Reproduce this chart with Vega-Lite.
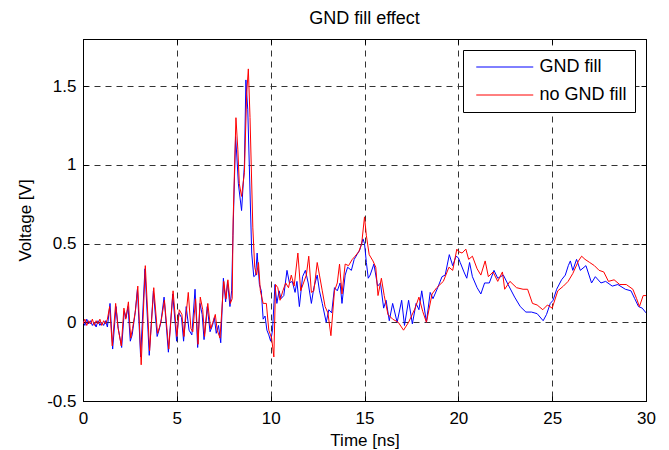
{
  "$schema": "https://vega.github.io/schema/vega-lite/v6.json",
  "width": 563,
  "height": 362,
  "autosize": "none",
  "padding": {"left": 83, "top": 39, "right": 23, "bottom": 49},
  "background": "white",
  "config": {
    "font": "Liberation Sans",
    "view": {"stroke": "black", "strokeWidth": 1},
    "axis": {
      "labelFont": "Liberation Sans",
      "titleFont": "Liberation Sans",
      "labelColor": "black",
      "titleColor": "black",
      "domainColor": "black",
      "tickColor": "black",
      "labelFontSize": 17,
      "titleFontSize": 17,
      "titleFontWeight": "normal",
      "tickSize": -5,
      "gridColor": "#333333",
      "gridDash": [6, 5],
      "gridOpacity": 1,
      "labelFlush": false,
      "labelOverlap": false
    },
    "legend": {
      "labelFont": "Liberation Sans",
      "labelFontSize": 18,
      "labelColor": "black"
    }
  },
  "title": {
    "text": "GND fill effect",
    "font": "Liberation Sans",
    "fontSize": 18,
    "fontWeight": "normal",
    "color": "black",
    "anchor": "middle",
    "baseline": "bottom",
    "offset": 14,
    "dy": 21
  },
  "data": {
    "values": [
      {"t":0,"v":0.01,"s":"GND fill"},{"t":0.1,"v":-0.02,"s":"GND fill"},{"t":0.2,"v":0.02,"s":"GND fill"},{"t":0.3,"v":-0.01,"s":"GND fill"},{"t":0.4,"v":0.01,"s":"GND fill"},{"t":0.5,"v":-0.02,"s":"GND fill"},{"t":0.6,"v":0.0,"s":"GND fill"},{"t":0.7,"v":-0.03,"s":"GND fill"},{"t":0.8,"v":0.01,"s":"GND fill"},{"t":0.9,"v":-0.02,"s":"GND fill"},{"t":1.0,"v":0.0,"s":"GND fill"},{"t":1.1,"v":-0.02,"s":"GND fill"},{"t":1.2,"v":0.01,"s":"GND fill"},{"t":1.3,"v":-0.03,"s":"GND fill"},{"t":1.44,"v":0.12,"s":"GND fill"},{"t":1.58,"v":-0.17,"s":"GND fill"},{"t":1.76,"v":0.1,"s":"GND fill"},{"t":1.88,"v":-0.04,"s":"GND fill"},{"t":2.06,"v":-0.16,"s":"GND fill"},{"t":2.2,"v":0.07,"s":"GND fill"},{"t":2.3,"v":0.03,"s":"GND fill"},{"t":2.4,"v":0.1,"s":"GND fill"},{"t":2.52,"v":-0.12,"s":"GND fill"},{"t":2.62,"v":-0.08,"s":"GND fill"},{"t":2.78,"v":0.06,"s":"GND fill"},{"t":2.9,"v":0.21,"s":"GND fill"},{"t":3.07,"v":-0.22,"s":"GND fill"},{"t":3.3,"v":0.34,"s":"GND fill"},{"t":3.53,"v":-0.21,"s":"GND fill"},{"t":3.75,"v":0.2,"s":"GND fill"},{"t":3.95,"v":-0.09,"s":"GND fill"},{"t":4.05,"v":-0.05,"s":"GND fill"},{"t":4.15,"v":0.0,"s":"GND fill"},{"t":4.32,"v":0.16,"s":"GND fill"},{"t":4.55,"v":-0.19,"s":"GND fill"},{"t":4.78,"v":0.18,"s":"GND fill"},{"t":4.99,"v":-0.12,"s":"GND fill"},{"t":5.11,"v":0.06,"s":"GND fill"},{"t":5.25,"v":0.03,"s":"GND fill"},{"t":5.36,"v":-0.12,"s":"GND fill"},{"t":5.5,"v":0.1,"s":"GND fill"},{"t":5.65,"v":-0.05,"s":"GND fill"},{"t":5.8,"v":-0.08,"s":"GND fill"},{"t":5.97,"v":0.21,"s":"GND fill"},{"t":6.11,"v":-0.16,"s":"GND fill"},{"t":6.23,"v":0.12,"s":"GND fill"},{"t":6.35,"v":0.05,"s":"GND fill"},{"t":6.45,"v":-0.11,"s":"GND fill"},{"t":6.62,"v":0.1,"s":"GND fill"},{"t":6.77,"v":-0.06,"s":"GND fill"},{"t":6.9,"v":-0.02,"s":"GND fill"},{"t":7.0,"v":0.03,"s":"GND fill"},{"t":7.1,"v":-0.07,"s":"GND fill"},{"t":7.22,"v":-0.02,"s":"GND fill"},{"t":7.34,"v":-0.13,"s":"GND fill"},{"t":7.48,"v":0.28,"s":"GND fill"},{"t":7.6,"v":0.13,"s":"GND fill"},{"t":7.7,"v":0.26,"s":"GND fill"},{"t":7.83,"v":0.1,"s":"GND fill"},{"t":7.92,"v":0.2,"s":"GND fill"},{"t":7.99,"v":0.55,"s":"GND fill"},{"t":8.13,"v":1.18,"s":"GND fill"},{"t":8.2,"v":1.05,"s":"GND fill"},{"t":8.28,"v":0.88,"s":"GND fill"},{"t":8.45,"v":0.71,"s":"GND fill"},{"t":8.6,"v":1.0,"s":"GND fill"},{"t":8.68,"v":1.54,"s":"GND fill"},{"t":8.78,"v":1.35,"s":"GND fill"},{"t":8.99,"v":0.44,"s":"GND fill"},{"t":9.1,"v":0.29,"s":"GND fill"},{"t":9.2,"v":0.3,"s":"GND fill"},{"t":9.28,"v":0.44,"s":"GND fill"},{"t":9.4,"v":0.24,"s":"GND fill"},{"t":9.5,"v":0.2,"s":"GND fill"},{"t":9.6,"v":0.02,"s":"GND fill"},{"t":9.7,"v":0.04,"s":"GND fill"},{"t":9.8,"v":-0.05,"s":"GND fill"},{"t":9.9,"v":-0.08,"s":"GND fill"},{"t":10.0,"v":-0.12,"s":"GND fill"},{"t":10.1,"v":-0.05,"s":"GND fill"},{"t":10.23,"v":0.24,"s":"GND fill"},{"t":10.33,"v":0.12,"s":"GND fill"},{"t":10.45,"v":0.2,"s":"GND fill"},{"t":10.55,"v":0.15,"s":"GND fill"},{"t":10.7,"v":0.17,"s":"GND fill"},{"t":10.87,"v":0.33,"s":"GND fill"},{"t":11.0,"v":0.25,"s":"GND fill"},{"t":11.15,"v":0.26,"s":"GND fill"},{"t":11.3,"v":0.19,"s":"GND fill"},{"t":11.4,"v":0.26,"s":"GND fill"},{"t":11.53,"v":0.1,"s":"GND fill"},{"t":11.7,"v":0.29,"s":"GND fill"},{"t":11.85,"v":0.33,"s":"GND fill"},{"t":12.0,"v":0.25,"s":"GND fill"},{"t":12.17,"v":0.12,"s":"GND fill"},{"t":12.3,"v":0.22,"s":"GND fill"},{"t":12.48,"v":0.3,"s":"GND fill"},{"t":12.6,"v":0.2,"s":"GND fill"},{"t":12.75,"v":0.12,"s":"GND fill"},{"t":12.96,"v":0.0,"s":"GND fill"},{"t":13.1,"v":0.08,"s":"GND fill"},{"t":13.25,"v":0.06,"s":"GND fill"},{"t":13.4,"v":0.22,"s":"GND fill"},{"t":13.55,"v":0.2,"s":"GND fill"},{"t":13.7,"v":0.25,"s":"GND fill"},{"t":13.8,"v":0.12,"s":"GND fill"},{"t":13.97,"v":0.3,"s":"GND fill"},{"t":14.1,"v":0.35,"s":"GND fill"},{"t":14.3,"v":0.33,"s":"GND fill"},{"t":14.45,"v":0.4,"s":"GND fill"},{"t":14.6,"v":0.43,"s":"GND fill"},{"t":14.75,"v":0.46,"s":"GND fill"},{"t":14.92,"v":0.53,"s":"GND fill"},{"t":15.0,"v":0.5,"s":"GND fill"},{"t":15.1,"v":0.38,"s":"GND fill"},{"t":15.2,"v":0.28,"s":"GND fill"},{"t":15.3,"v":0.3,"s":"GND fill"},{"t":15.5,"v":0.37,"s":"GND fill"},{"t":15.6,"v":0.3,"s":"GND fill"},{"t":15.7,"v":0.23,"s":"GND fill"},{"t":15.85,"v":0.25,"s":"GND fill"},{"t":16.02,"v":0.09,"s":"GND fill"},{"t":16.15,"v":0.14,"s":"GND fill"},{"t":16.32,"v":0.01,"s":"GND fill"},{"t":16.5,"v":0.12,"s":"GND fill"},{"t":16.74,"v":0.0,"s":"GND fill"},{"t":16.98,"v":0.14,"s":"GND fill"},{"t":17.13,"v":-0.02,"s":"GND fill"},{"t":17.35,"v":0.14,"s":"GND fill"},{"t":17.55,"v":-0.01,"s":"GND fill"},{"t":17.75,"v":0.12,"s":"GND fill"},{"t":17.9,"v":0.08,"s":"GND fill"},{"t":18.05,"v":0.2,"s":"GND fill"},{"t":18.3,"v":0.0,"s":"GND fill"},{"t":18.5,"v":0.19,"s":"GND fill"},{"t":18.65,"v":0.15,"s":"GND fill"},{"t":18.9,"v":0.22,"s":"GND fill"},{"t":19.13,"v":0.29,"s":"GND fill"},{"t":19.3,"v":0.3,"s":"GND fill"},{"t":19.52,"v":0.43,"s":"GND fill"},{"t":19.7,"v":0.36,"s":"GND fill"},{"t":19.88,"v":0.42,"s":"GND fill"},{"t":20.0,"v":0.41,"s":"GND fill"},{"t":20.1,"v":0.38,"s":"GND fill"},{"t":20.3,"v":0.32,"s":"GND fill"},{"t":20.45,"v":0.28,"s":"GND fill"},{"t":20.6,"v":0.38,"s":"GND fill"},{"t":20.75,"v":0.29,"s":"GND fill"},{"t":21.0,"v":0.22,"s":"GND fill"},{"t":21.2,"v":0.18,"s":"GND fill"},{"t":21.4,"v":0.25,"s":"GND fill"},{"t":21.65,"v":0.25,"s":"GND fill"},{"t":21.9,"v":0.33,"s":"GND fill"},{"t":22.1,"v":0.28,"s":"GND fill"},{"t":22.4,"v":0.3,"s":"GND fill"},{"t":22.65,"v":0.24,"s":"GND fill"},{"t":23.0,"v":0.16,"s":"GND fill"},{"t":23.3,"v":0.1,"s":"GND fill"},{"t":23.6,"v":0.065,"s":"GND fill"},{"t":23.9,"v":0.065,"s":"GND fill"},{"t":24.2,"v":0.055,"s":"GND fill"},{"t":24.52,"v":0.01,"s":"GND fill"},{"t":24.7,"v":0.05,"s":"GND fill"},{"t":24.9,"v":0.12,"s":"GND fill"},{"t":25.05,"v":0.14,"s":"GND fill"},{"t":25.24,"v":0.21,"s":"GND fill"},{"t":25.5,"v":0.27,"s":"GND fill"},{"t":25.7,"v":0.3,"s":"GND fill"},{"t":25.86,"v":0.36,"s":"GND fill"},{"t":25.97,"v":0.39,"s":"GND fill"},{"t":26.1,"v":0.33,"s":"GND fill"},{"t":26.3,"v":0.4,"s":"GND fill"},{"t":26.5,"v":0.33,"s":"GND fill"},{"t":26.8,"v":0.36,"s":"GND fill"},{"t":27.1,"v":0.25,"s":"GND fill"},{"t":27.3,"v":0.29,"s":"GND fill"},{"t":27.6,"v":0.25,"s":"GND fill"},{"t":27.85,"v":0.26,"s":"GND fill"},{"t":28.2,"v":0.23,"s":"GND fill"},{"t":28.5,"v":0.24,"s":"GND fill"},{"t":28.9,"v":0.21,"s":"GND fill"},{"t":29.2,"v":0.2,"s":"GND fill"},{"t":29.4,"v":0.15,"s":"GND fill"},{"t":29.6,"v":0.1,"s":"GND fill"},{"t":29.8,"v":0.09,"s":"GND fill"},{"t":30.0,"v":0.06,"s":"GND fill"},
      {"t":0,"v":-0.01,"s":"no GND fill"},{"t":0.1,"v":0.02,"s":"no GND fill"},{"t":0.2,"v":-0.02,"s":"no GND fill"},{"t":0.3,"v":0.01,"s":"no GND fill"},{"t":0.4,"v":-0.01,"s":"no GND fill"},{"t":0.5,"v":0.02,"s":"no GND fill"},{"t":0.6,"v":-0.02,"s":"no GND fill"},{"t":0.7,"v":0.01,"s":"no GND fill"},{"t":0.8,"v":-0.01,"s":"no GND fill"},{"t":0.9,"v":0.02,"s":"no GND fill"},{"t":1.0,"v":-0.02,"s":"no GND fill"},{"t":1.1,"v":0.01,"s":"no GND fill"},{"t":1.2,"v":-0.01,"s":"no GND fill"},{"t":1.3,"v":0.02,"s":"no GND fill"},{"t":1.42,"v":0.1,"s":"no GND fill"},{"t":1.56,"v":-0.15,"s":"no GND fill"},{"t":1.74,"v":0.12,"s":"no GND fill"},{"t":1.86,"v":-0.03,"s":"no GND fill"},{"t":2.04,"v":-0.15,"s":"no GND fill"},{"t":2.18,"v":0.09,"s":"no GND fill"},{"t":2.28,"v":0.02,"s":"no GND fill"},{"t":2.42,"v":0.13,"s":"no GND fill"},{"t":2.54,"v":-0.1,"s":"no GND fill"},{"t":2.64,"v":-0.04,"s":"no GND fill"},{"t":2.8,"v":0.08,"s":"no GND fill"},{"t":2.92,"v":0.23,"s":"no GND fill"},{"t":3.1,"v":-0.27,"s":"no GND fill"},{"t":3.32,"v":0.36,"s":"no GND fill"},{"t":3.55,"v":-0.18,"s":"no GND fill"},{"t":3.77,"v":0.22,"s":"no GND fill"},{"t":3.97,"v":-0.07,"s":"no GND fill"},{"t":4.08,"v":-0.03,"s":"no GND fill"},{"t":4.18,"v":0.02,"s":"no GND fill"},{"t":4.34,"v":0.14,"s":"no GND fill"},{"t":4.57,"v":-0.17,"s":"no GND fill"},{"t":4.8,"v":0.2,"s":"no GND fill"},{"t":5.0,"v":-0.09,"s":"no GND fill"},{"t":5.13,"v":0.08,"s":"no GND fill"},{"t":5.27,"v":0.05,"s":"no GND fill"},{"t":5.38,"v":-0.09,"s":"no GND fill"},{"t":5.61,"v":0.19,"s":"no GND fill"},{"t":5.75,"v":-0.04,"s":"no GND fill"},{"t":5.85,"v":-0.06,"s":"no GND fill"},{"t":6.0,"v":0.15,"s":"no GND fill"},{"t":6.13,"v":-0.14,"s":"no GND fill"},{"t":6.25,"v":0.16,"s":"no GND fill"},{"t":6.38,"v":0.08,"s":"no GND fill"},{"t":6.48,"v":-0.09,"s":"no GND fill"},{"t":6.65,"v":0.12,"s":"no GND fill"},{"t":6.8,"v":-0.04,"s":"no GND fill"},{"t":6.92,"v":0.0,"s":"no GND fill"},{"t":7.05,"v":0.05,"s":"no GND fill"},{"t":7.15,"v":-0.05,"s":"no GND fill"},{"t":7.3,"v":-0.1,"s":"no GND fill"},{"t":7.5,"v":0.26,"s":"no GND fill"},{"t":7.62,"v":0.15,"s":"no GND fill"},{"t":7.72,"v":0.27,"s":"no GND fill"},{"t":7.85,"v":0.12,"s":"no GND fill"},{"t":7.95,"v":0.15,"s":"no GND fill"},{"t":8.0,"v":0.65,"s":"no GND fill"},{"t":8.15,"v":1.3,"s":"no GND fill"},{"t":8.25,"v":1.1,"s":"no GND fill"},{"t":8.33,"v":0.88,"s":"no GND fill"},{"t":8.45,"v":0.8,"s":"no GND fill"},{"t":8.6,"v":0.95,"s":"no GND fill"},{"t":8.72,"v":1.45,"s":"no GND fill"},{"t":8.81,"v":1.61,"s":"no GND fill"},{"t":8.9,"v":1.3,"s":"no GND fill"},{"t":9.05,"v":0.6,"s":"no GND fill"},{"t":9.15,"v":0.35,"s":"no GND fill"},{"t":9.25,"v":0.3,"s":"no GND fill"},{"t":9.35,"v":0.38,"s":"no GND fill"},{"t":9.45,"v":0.2,"s":"no GND fill"},{"t":9.6,"v":0.12,"s":"no GND fill"},{"t":9.77,"v":0.12,"s":"no GND fill"},{"t":9.9,"v":-0.05,"s":"no GND fill"},{"t":10.05,"v":-0.1,"s":"no GND fill"},{"t":10.17,"v":-0.22,"s":"no GND fill"},{"t":10.26,"v":0.24,"s":"no GND fill"},{"t":10.38,"v":0.22,"s":"no GND fill"},{"t":10.5,"v":0.14,"s":"no GND fill"},{"t":10.65,"v":0.2,"s":"no GND fill"},{"t":10.8,"v":0.25,"s":"no GND fill"},{"t":10.95,"v":0.22,"s":"no GND fill"},{"t":11.1,"v":0.3,"s":"no GND fill"},{"t":11.25,"v":0.23,"s":"no GND fill"},{"t":11.45,"v":0.44,"s":"no GND fill"},{"t":11.6,"v":0.2,"s":"no GND fill"},{"t":11.75,"v":0.25,"s":"no GND fill"},{"t":11.9,"v":0.3,"s":"no GND fill"},{"t":12.03,"v":0.42,"s":"no GND fill"},{"t":12.17,"v":0.19,"s":"no GND fill"},{"t":12.3,"v":0.2,"s":"no GND fill"},{"t":12.48,"v":0.38,"s":"no GND fill"},{"t":12.6,"v":0.3,"s":"no GND fill"},{"t":12.75,"v":0.2,"s":"no GND fill"},{"t":12.9,"v":0.1,"s":"no GND fill"},{"t":13.05,"v":0.06,"s":"no GND fill"},{"t":13.21,"v":-0.085,"s":"no GND fill"},{"t":13.4,"v":0.2,"s":"no GND fill"},{"t":13.55,"v":0.25,"s":"no GND fill"},{"t":13.67,"v":0.37,"s":"no GND fill"},{"t":13.8,"v":0.18,"s":"no GND fill"},{"t":13.97,"v":0.37,"s":"no GND fill"},{"t":14.15,"v":0.36,"s":"no GND fill"},{"t":14.35,"v":0.4,"s":"no GND fill"},{"t":14.5,"v":0.42,"s":"no GND fill"},{"t":14.7,"v":0.45,"s":"no GND fill"},{"t":14.85,"v":0.5,"s":"no GND fill"},{"t":15.0,"v":0.67,"s":"no GND fill"},{"t":15.1,"v":0.55,"s":"no GND fill"},{"t":15.25,"v":0.43,"s":"no GND fill"},{"t":15.45,"v":0.39,"s":"no GND fill"},{"t":15.6,"v":0.35,"s":"no GND fill"},{"t":15.72,"v":0.17,"s":"no GND fill"},{"t":15.9,"v":0.28,"s":"no GND fill"},{"t":16.05,"v":0.17,"s":"no GND fill"},{"t":16.25,"v":0.05,"s":"no GND fill"},{"t":16.5,"v":0.02,"s":"no GND fill"},{"t":16.8,"v":0.0,"s":"no GND fill"},{"t":17.08,"v":-0.05,"s":"no GND fill"},{"t":17.35,"v":0.0,"s":"no GND fill"},{"t":17.7,"v":0.09,"s":"no GND fill"},{"t":17.9,"v":0.16,"s":"no GND fill"},{"t":18.1,"v":0.07,"s":"no GND fill"},{"t":18.3,"v":0.0,"s":"no GND fill"},{"t":18.6,"v":0.18,"s":"no GND fill"},{"t":18.85,"v":0.22,"s":"no GND fill"},{"t":19.2,"v":0.26,"s":"no GND fill"},{"t":19.5,"v":0.35,"s":"no GND fill"},{"t":19.7,"v":0.33,"s":"no GND fill"},{"t":19.92,"v":0.465,"s":"no GND fill"},{"t":20.0,"v":0.45,"s":"no GND fill"},{"t":20.2,"v":0.44,"s":"no GND fill"},{"t":20.4,"v":0.465,"s":"no GND fill"},{"t":20.55,"v":0.4,"s":"no GND fill"},{"t":20.75,"v":0.42,"s":"no GND fill"},{"t":21.0,"v":0.34,"s":"no GND fill"},{"t":21.2,"v":0.3,"s":"no GND fill"},{"t":21.43,"v":0.39,"s":"no GND fill"},{"t":21.6,"v":0.29,"s":"no GND fill"},{"t":21.85,"v":0.32,"s":"no GND fill"},{"t":22.1,"v":0.26,"s":"no GND fill"},{"t":22.35,"v":0.32,"s":"no GND fill"},{"t":22.47,"v":0.21,"s":"no GND fill"},{"t":22.75,"v":0.26,"s":"no GND fill"},{"t":23.1,"v":0.22,"s":"no GND fill"},{"t":23.45,"v":0.21,"s":"no GND fill"},{"t":23.69,"v":0.21,"s":"no GND fill"},{"t":23.95,"v":0.12,"s":"no GND fill"},{"t":24.2,"v":0.11,"s":"no GND fill"},{"t":24.5,"v":0.08,"s":"no GND fill"},{"t":24.75,"v":0.11,"s":"no GND fill"},{"t":25.0,"v":0.09,"s":"no GND fill"},{"t":25.3,"v":0.2,"s":"no GND fill"},{"t":25.6,"v":0.23,"s":"no GND fill"},{"t":25.85,"v":0.26,"s":"no GND fill"},{"t":26.1,"v":0.31,"s":"no GND fill"},{"t":26.4,"v":0.39,"s":"no GND fill"},{"t":26.57,"v":0.42,"s":"no GND fill"},{"t":26.75,"v":0.4,"s":"no GND fill"},{"t":27.0,"v":0.38,"s":"no GND fill"},{"t":27.25,"v":0.36,"s":"no GND fill"},{"t":27.5,"v":0.33,"s":"no GND fill"},{"t":27.75,"v":0.32,"s":"no GND fill"},{"t":28.0,"v":0.26,"s":"no GND fill"},{"t":28.3,"v":0.27,"s":"no GND fill"},{"t":28.6,"v":0.24,"s":"no GND fill"},{"t":28.95,"v":0.24,"s":"no GND fill"},{"t":29.3,"v":0.21,"s":"no GND fill"},{"t":29.5,"v":0.15,"s":"no GND fill"},{"t":29.65,"v":0.1,"s":"no GND fill"},{"t":29.85,"v":0.17,"s":"no GND fill"},{"t":30.0,"v":0.17,"s":"no GND fill"}
    ]
  },
  "resolve": {"axis": {"x": "independent", "y": "independent"}},
  "layer": [
    {
      "mark": {"type": "line", "strokeWidth": 1, "clip": true},
      "encoding": {
        "x": {
          "field": "t", "type": "quantitative",
          "scale": {"domain": [0, 30], "nice": false},
          "axis": {"values": [0, 5, 10, 15, 20, 25, 30], "title": "Time [ns]", "grid": true, "labelPadding": 14, "titlePadding": 6}
        },
        "y": {
          "field": "v", "type": "quantitative",
          "scale": {"domain": [-0.5, 1.8], "nice": false, "zero": false},
          "axis": {"values": [-0.5, 0, 0.5, 1, 1.5], "title": "Voltage [V]", "grid": true, "labelPadding": 12, "titlePadding": 12, "labelExpr": "'' + datum.value"}
        },
        "color": {
          "field": "s", "type": "nominal",
          "scale": {"domain": ["GND fill", "no GND fill"], "range": ["#0000ff", "#ff0000"]},
          "legend": {
            "title": null,
            "orient": "none",
            "legendX": 380,
            "legendY": 11,
            "fillColor": "white",
            "strokeColor": "black",
            "padding": 8,
            "symbolOffset": 24.75,
            "symbolType": "M-6,0L6,0",
            "symbolSize": 90.25,
            "symbolStrokeWidth": 1,
            "labelOffset": 25.75,
            "rowPadding": 10
          }
        }
      }
    },
    {
      "mark": {"type": "line", "opacity": 0},
      "encoding": {
        "x": {
          "field": "t", "type": "quantitative",
          "axis": {"orient": "top", "values": [0, 5, 10, 15, 20, 25, 30], "labels": false, "title": null, "grid": false}
        },
        "y": {
          "field": "v", "type": "quantitative",
          "axis": {"orient": "right", "values": [-0.5, 0, 0.5, 1, 1.5], "labels": false, "title": null, "grid": false}
        },
        "detail": {"field": "s"}
      }
    }
  ]
}
